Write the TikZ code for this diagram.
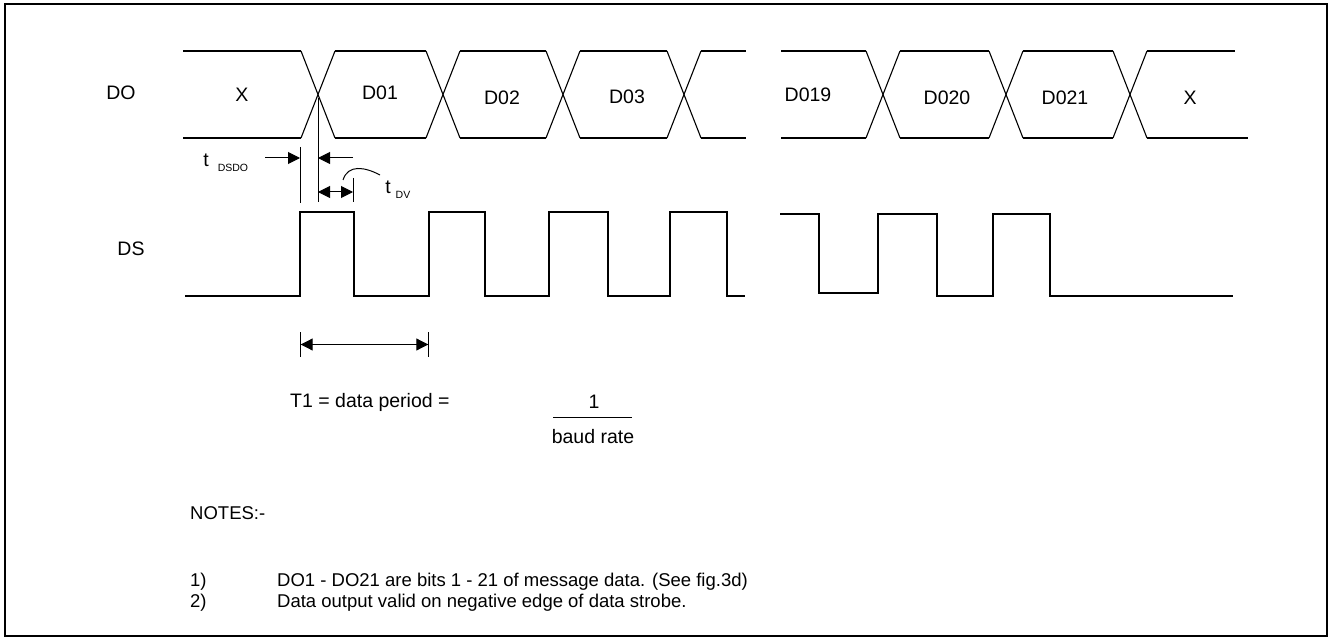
\documentclass[tikz,border=0pt]{standalone}
\usepackage{fontspec}
\setmainfont{Liberation Sans}
\usetikzlibrary{arrows.meta}
\begin{document}
\begin{tikzpicture}[x=1pt,y=-1pt,
  wave/.style={line width=1.1pt, line join=miter},
  dim/.style={line width=1pt},
  lbl/.style={font=\fontsize{19.5}{22}\selectfont, inner sep=0pt},
  note/.style={lbl, font=\fontsize{18.5}{21}\selectfont, anchor=west},
  sublbl/.style={font=\fontsize{10.5}{12}\selectfont, inner sep=0pt},
  tri/.tip={Triangle[length=12pt,width=12pt]},
  frame/.style={line width=2pt}]
\useasboundingbox (0,0) rectangle (1334,639);
\draw[frame] (5,4) rectangle (1327,636);
% DO waveform
\foreach \c in {318,443,563,684,883,1006,1130}{
  \draw[wave] (\c-17,51) -- (\c+17,138);
  \draw[wave] (\c-17,138) -- (\c+17,51);
}
\foreach \a/\b in {183/301,335/426,460/546,580/667,701/746,781/866,900/989,1023/1113}{
  \draw[wave] (\a,51) -- (\b,51);
  \draw[wave] (\a,138) -- (\b,138);
}
\draw[wave] (1147,51) -- (1235,51);
\draw[wave] (1147,138) -- (1248,138);
% DS waveform
\draw[wave] (185,296) -- (300,296) -- (300,212) -- (354,212) -- (354,296) -- (429,296) -- (429,212) -- (485,212) -- (485,296) -- (549,296) -- (549,212) -- (608,212) -- (608,296) -- (670,296) -- (670,212) -- (727,212) -- (727,296) -- (745,296);
\draw[wave] (780,214) -- (819,214) -- (819,293) -- (878,293) -- (878,214) -- (937,214) -- (937,296) -- (993,296) -- (993,214) -- (1050,214) -- (1050,296) -- (1233,296);
% labels
\node[lbl] (doL) at (121,93) {DO};
\node[lbl] (dsL) at (131,249) {DS};
\node[lbl] (x1) at (242,95) {X};
\node[lbl] (d01) at (380,93) {D01};
\node[lbl] (d02) at (502,98) {D02};
\node[lbl] (d03) at (627,97) {D03};
\node[lbl] (d019) at (808,95) {D019};
\node[lbl] (d020) at (947,98) {D020};
\node[lbl] (d021) at (1065,98) {D021};
\node[lbl] (x2) at (1190,98) {X};
% timing annotations
\coordinate (cx) at (318,98);
\coordinate (cxb) at (318,202);
\draw[dim] (cx) -- (cxb);
\coordinate (ra) at (300,147);
\coordinate (rb) at (300,203);
\draw[dim] (ra) -- (rb);
\coordinate (da) at (265,158);
\coordinate (db) at (300,158);
\draw[dim,-tri] (da) -- (db);
\coordinate (dc) at (353,158);
\coordinate (dd) at (318,158);
\draw[dim,-tri] (dc) -- (dd);
\coordinate (va) at (318,192);
\coordinate (vb) at (353,192);
\draw[dim,tri-tri] (va) -- (vb);
\coordinate (vt) at (353,178);
\coordinate (vbt) at (353,202);
\draw[dim] (vt) -- (vbt);
\coordinate (ca) at (343,180);
\coordinate (cb) at (380,175);
\draw[dim] (ca) .. controls (348,164) and (365,167) .. (cb);
\node[lbl] (tdsdo) at (206,160) {t};
\node[sublbl] (sdsdo) at (233,168) {DSDO};
\node[lbl] (tdv) at (388,187) {t};
\node[sublbl] (sdv) at (403,195) {DV};
% T1 period
\coordinate (p1a) at (300.7,332);
\coordinate (p1b) at (300.7,357);
\coordinate (p2a) at (428.3,332);
\coordinate (p2b) at (428.3,357);
\draw[dim] (p1a) -- (p1b);
\draw[dim] (p2a) -- (p2b);
\coordinate (pa) at (300.7,344.5);
\coordinate (pb) at (428.3,344.5);
\draw[dim,tri-tri] (pa) -- (pb);
\node[lbl,anchor=west] (t1) at (290,402) {T1 = data period =};
\node[lbl] (one) at (594,402) {1};
\coordinate (fa) at (553,417);
\coordinate (fb) at (632,417);
\draw[dim] (fa) -- (fb);
\node[lbl] (baud) at (593,437) {baud rate};
% notes
\node[note] (notes) at (190,513) {NOTES:-};
\node[note] (n1) at (190,582) {1)};
\node[note] (n1t) at (277,582) {DO1 - DO21 are bits 1 - 21 of message data. (See fig.3d)};
\node[note] (n2) at (190,603) {2)};
\node[note] (n2t) at (277,603) {Data output valid on negative edge of data strobe.};
\end{tikzpicture}
\end{document}
